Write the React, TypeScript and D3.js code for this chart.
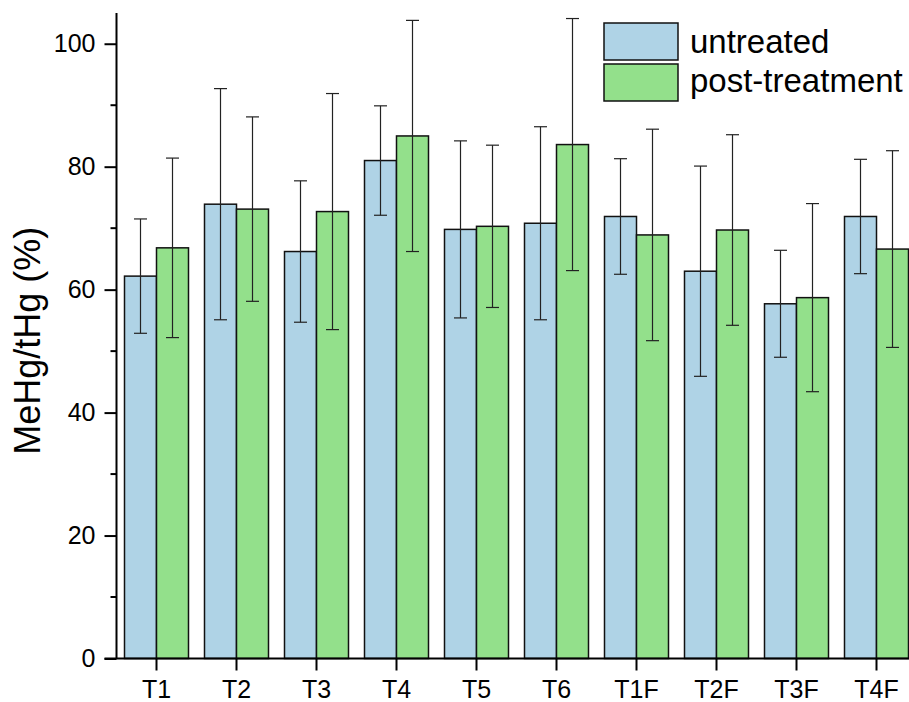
import React, { useEffect, useRef } from "react";
import * as d3 from "d3";

const categories = ["T1", "T2", "T3", "T4", "T5", "T6", "T1F", "T2F", "T3F", "T4F"];
const untreatedMean = [62.2, 73.9, 66.2, 81.0, 69.8, 70.8, 71.9, 63.0, 57.7, 71.9];
const untreatedErr = [9.3, 18.8, 11.5, 8.9, 14.4, 15.7, 9.4, 17.1, 8.7, 9.3];
const postMean = [66.8, 73.1, 72.7, 85.0, 70.3, 83.6, 68.9, 69.7, 58.7, 66.6];
const postErr = [14.6, 15.0, 19.2, 18.8, 13.2, 20.5, 17.2, 15.5, 15.3, 16.0];
const seriesNames = ["untreated", "post-treatment"];
const seriesColors = ["#afd3e6", "#93e08b"];
const yTicks = [0, 20, 40, 60, 80, 100];

const W = 909;
const H = 702;
const FONT = "Arial, 'Liberation Sans', sans-serif";

const App = () => {
  const svgRef = useRef<SVGSVGElement>(null);

  useEffect(() => {
    const svg = d3.select(svgRef.current);
    svg.selectAll("*").remove();

    const left = 116.5;
    const bottom = 658.5;
    const top = 13;

    const x = d3
      .scaleBand()
      .domain(categories)
      .range([left, left + 80 * categories.length])
      .paddingInner(0.2)
      .paddingOuter(0.1);
    const inner = d3.scaleBand().domain(["0", "1"]).range([0, x.bandwidth()]);
    const y = d3.scaleLinear().domain([0, 105]).range([bottom, top]);

    const g = svg.append("g");

    const series = [
      { mean: untreatedMean, err: untreatedErr },
      { mean: postMean, err: postErr },
    ];

    series.forEach((s, si) => {
      g.selectAll(`.bar${si}`)
        .data(categories)
        .join("rect")
        .attr("x", (d) => (x(d) as number) + (inner(String(si)) as number))
        .attr("y", (d, i) => y(s.mean[i]))
        .attr("width", inner.bandwidth())
        .attr("height", (d, i) => bottom - y(s.mean[i]))
        .attr("fill", seriesColors[si])
        .attr("stroke", "#111")
        .attr("stroke-width", 1.5);
    });

    // error bars
    series.forEach((s, si) => {
      const eg = g
        .selectAll(`.err${si}`)
        .data(categories)
        .join("g")
        .attr(
          "transform",
          (d) =>
            `translate(${(x(d) as number) + (inner(String(si)) as number) + inner.bandwidth() / 2},0)`
        );
      eg.append("line")
        .attr("y1", (d, i) => y(s.mean[i] + s.err[i]))
        .attr("y2", (d, i) => y(s.mean[i] - s.err[i]))
        .attr("stroke", "#222")
        .attr("stroke-width", 1.2);
      [1, -1].forEach((sign) => {
        eg.append("line")
          .attr("x1", -6.5)
          .attr("x2", 6.5)
          .attr("y1", (d, i) => y(s.mean[i] + sign * s.err[i]))
          .attr("y2", (d, i) => y(s.mean[i] + sign * s.err[i]))
          .attr("stroke", "#222")
          .attr("stroke-width", 1.2);
      });
    });

    // y axis
    const yAxis = g
      .append("g")
      .attr("transform", `translate(${left},0)`)
      .call(
        d3
          .axisLeft(y)
          .tickValues(yTicks)
          .tickSize(12)
          .tickPadding(9)
          .tickFormat(d3.format("d"))
      );
    yAxis.select(".domain").attr("stroke-width", 2).attr("d", `M0,${top}V${bottom}`);
    yAxis.selectAll(".tick line").attr("stroke-width", 2);
    yAxis.selectAll("text").style("font-size", "25px").style("font-family", FONT).attr("fill", "#000");
    yAxis
      .selectAll(".minor")
      .data([10, 30, 50, 70, 90])
      .join("line")
      .attr("class", "minor")
      .attr("x1", -6)
      .attr("x2", 0)
      .attr("y1", (d) => y(d))
      .attr("y2", (d) => y(d))
      .attr("stroke", "#000")
      .attr("stroke-width", 2);

    // x axis
    const xAxis = g
      .append("g")
      .attr("transform", `translate(0,${bottom})`)
      .call(d3.axisBottom(x).tickSize(12).tickPadding(10).tickSizeOuter(0));
    xAxis.select(".domain").attr("stroke-width", 2).attr("d", `M${left - 12},0H${W + 10}`);
    xAxis.selectAll(".tick line").attr("stroke-width", 2);
    xAxis.selectAll("text").style("font-size", "25px").style("font-family", FONT).attr("fill", "#000");

    // y label
    svg
      .append("text")
      .attr("transform", `translate(40,${(top + bottom) / 2 + 5}) rotate(-90)`)
      .attr("text-anchor", "middle")
      .style("font-size", "36px")
      .style("font-family", FONT)
      .text("MeHg/tHg (%)");

    // legend
    const lg = svg.append("g").attr("transform", "translate(604,23)");
    seriesNames.forEach((name, i) => {
      lg.append("rect")
        .attr("x", 0)
        .attr("y", i * 41)
        .attr("width", 74)
        .attr("height", 37)
        .attr("fill", seriesColors[i])
        .attr("stroke", "#111")
        .attr("stroke-width", 1.5);
      lg.append("text")
        .attr("x", 86)
        .attr("y", i * 39 + 30)
        .style("font-size", "33px")
        .style("font-family", FONT)
        .text(name);
    });
  }, []);

  return (
    <svg
      ref={svgRef}
      width={W}
      height={H}
      style={{ position: "absolute", left: 0, top: 0, background: "#fff" }}
    />
  );
};

export default App;
